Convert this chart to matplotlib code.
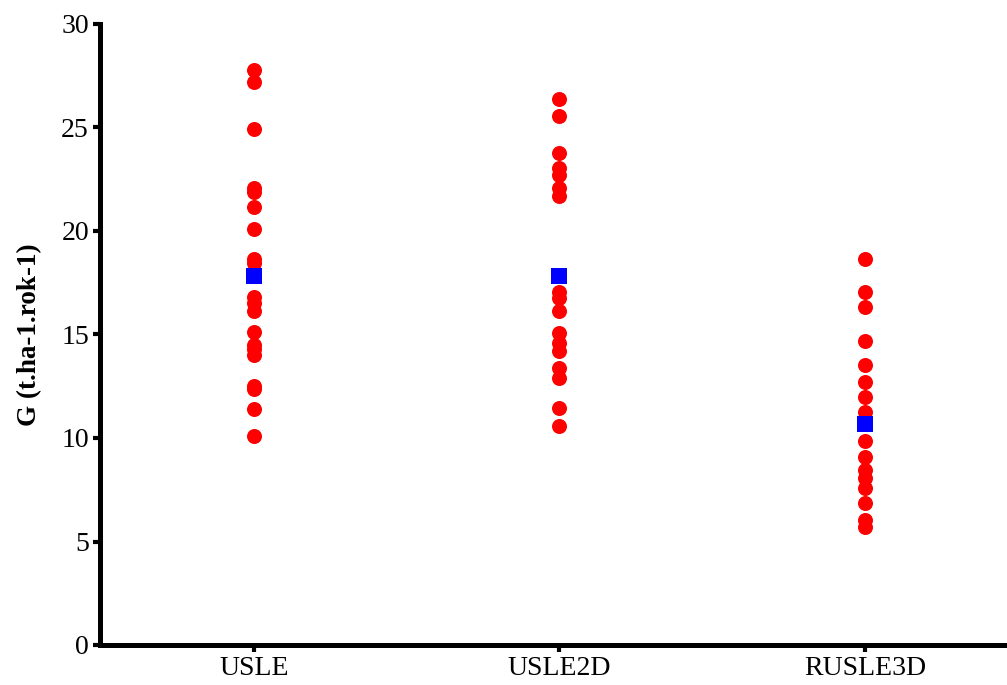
import numpy as np
import matplotlib.pyplot as plt

categories = ['USLE', 'USLE2D', 'RUSLE3D']

usle = [27.78, 27.2, 24.94, 22.07, 21.9, 21.16, 20.1, 18.65, 18.45, 16.81,
        16.52, 16.15, 15.12, 14.49, 14.3, 14.0, 12.51, 12.37, 11.4, 10.1]
usle2d = [26.38, 25.57, 23.78, 23.03, 22.71, 22.1, 21.69, 17.07, 16.76, 16.14,
          15.08, 14.59, 14.22, 13.37, 12.88, 11.46, 10.6]
rusle3d = [18.65, 17.04, 16.31, 14.7, 13.53, 12.72, 12.0, 11.27, 9.86, 9.1,
           8.45, 8.05, 7.57, 6.87, 6.04, 5.69]
means = [17.85, 17.85, 10.7]

plt.rcParams['font.family'] = ['Liberation Serif', 'DejaVu Serif']

fig = plt.figure(figsize=(10.07, 6.85), dpi=100)
ax = fig.add_axes([100 / 1007, 1 - 645 / 685, 907 / 1007, 621 / 685])

for i, vals in enumerate([usle, usle2d, rusle3d]):
    ax.plot([i] * len(vals), vals, 'o', color='#ff0000', ms=10.8,
            markeredgewidth=0, zorder=2, clip_on=False)
ax.plot(range(len(means)), means, 's', color='#0000ff', ms=11.5,
        markeredgewidth=0, zorder=3)

ax.set_xlim(-0.504, 2.465)
ax.set_ylim(0, 30)
ax.set_yticks([0, 5, 10, 15, 20, 25, 30])
ax.set_xticks(range(len(categories)))
ax.set_xticklabels(categories)
ax.set_ylabel('G (t.ha-1.rok-1)', fontsize=19.5, fontweight='bold', labelpad=14)

for s in ['top', 'right']:
    ax.spines[s].set_visible(False)
for s in ['left', 'bottom']:
    ax.spines[s].set_linewidth(3.6)
ax.tick_params(axis='both', width=3, length=5, labelsize=20, pad=3)

plt.savefig('out.png', dpi=100)
